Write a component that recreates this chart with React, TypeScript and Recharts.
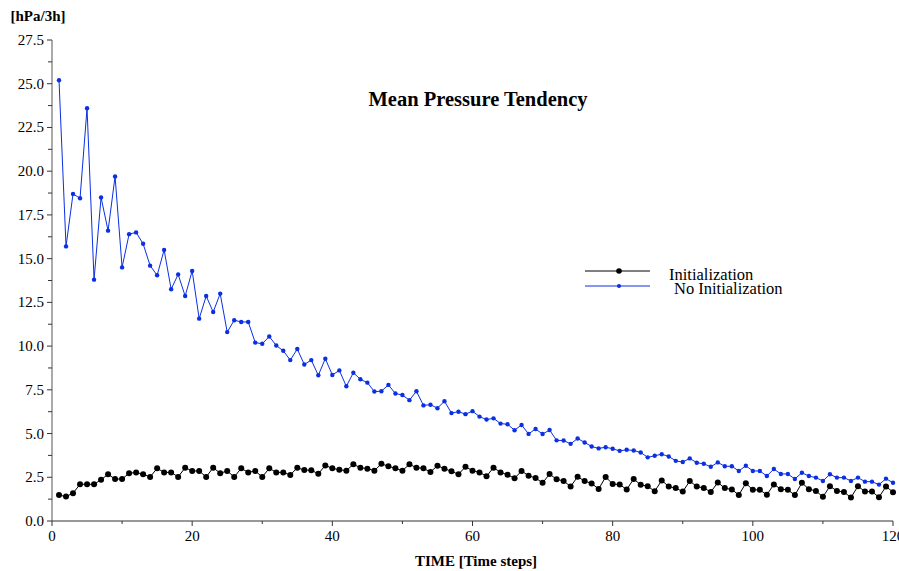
import { LineChart, Line, XAxis, YAxis } from "recharts";

const noInit = [
  25.2, 15.7, 18.7, 18.45, 23.6, 13.8, 18.5, 16.6, 19.7, 14.5,
  16.4, 16.5, 15.85, 14.6, 14.05, 15.5, 13.25, 14.1, 12.86, 14.3,
  11.57, 12.86, 11.95, 13.0, 10.8, 11.48, 11.38, 11.38, 10.2, 10.13,
  10.55, 10.03, 9.73, 9.2, 9.83, 8.95, 9.2, 8.33, 9.28, 8.35,
  8.61, 7.7, 8.48, 8.1, 7.91, 7.4, 7.42, 7.78, 7.29, 7.2,
  6.91, 7.42, 6.61, 6.65, 6.45, 6.85, 6.17, 6.25, 6.11, 6.28,
  5.97, 5.8, 5.87, 5.57, 5.53, 5.19, 5.49, 4.98, 5.26, 4.97,
  5.2, 4.61, 4.6, 4.41, 4.72, 4.49, 4.26, 4.15, 4.22, 4.13,
  4.01, 4.07, 4.03, 3.92, 3.64, 3.73, 3.82, 3.69, 3.44, 3.37,
  3.58, 3.33, 3.27, 3.1, 3.35, 3.13, 3.13, 2.86, 3.16, 2.86,
  2.86, 2.57, 2.97, 2.69, 2.69, 2.4, 2.76, 2.57, 2.48, 2.29,
  2.67, 2.48, 2.48, 2.29, 2.48, 2.25, 2.25, 2.08, 2.42, 2.19,
];

const withInit = [
  1.48, 1.4, 1.59, 2.1, 2.1, 2.1, 2.36, 2.67, 2.4, 2.4,
  2.73, 2.78, 2.67, 2.52, 3.01, 2.78, 2.78, 2.52, 3.05, 2.86,
  2.86, 2.52, 3.05, 2.73, 2.86, 2.52, 3.01, 2.78, 2.86, 2.52,
  3.01, 2.78, 2.78, 2.63, 3.05, 2.91, 2.9, 2.7, 3.18, 3.01,
  2.93, 2.88, 3.24, 3.05, 2.99, 2.88, 3.27, 3.13, 3.01, 2.88,
  3.24, 3.05, 3.01, 2.8, 3.16, 2.99, 2.84, 2.67, 3.1, 2.88,
  2.78, 2.56, 3.05, 2.78, 2.65, 2.44, 2.86, 2.59, 2.46, 2.18,
  2.68, 2.38, 2.29, 1.97, 2.53, 2.28, 2.15, 1.83, 2.52, 2.11,
  2.09, 1.8, 2.4, 2.07, 1.99, 1.7, 2.32, 1.97, 1.88, 1.68,
  2.28, 1.97, 1.89, 1.66, 2.2, 1.88, 1.8, 1.49, 2.16, 1.78,
  1.78, 1.5, 2.09, 1.82, 1.78, 1.48, 2.18, 1.82, 1.72, 1.38,
  1.99, 1.72, 1.66, 1.34, 1.99, 1.68, 1.68, 1.36, 1.97, 1.65,
];

const timeSteps = noInit.map((_, i) => i + 1);

const xTicks = [0, 10, 20, 30, 40, 50, 60, 70, 80, 90, 100, 110, 120];
const yTicks = [
  0, 1.25, 2.5, 3.75, 5, 6.25, 7.5, 8.75, 10, 11.25, 12.5, 13.75,
  15, 16.25, 17.5, 18.75, 20, 21.25, 22.5, 23.75, 25, 26.25, 27.5,
];

const data = timeSteps.map((t, i) => ({ t, init: withInit[i], noInit: noInit[i] }));

const FONT = '"Liberation Serif", "Times New Roman", serif';
const BLUE = "#0b2fe3";

const XTick = ({ x, y, payload }: any) => {
  const major = payload.value % 20 === 0;
  return (
    <g>
      <line x1={x} x2={x} y1={y} y2={y + (major ? 5 : 3)} stroke="#333" />
      {major && (
        <text x={x} y={y + 20} textAnchor="middle" fontFamily={FONT} fontSize={15} fill="#000">
          {payload.value}
        </text>
      )}
    </g>
  );
};

const YTick = ({ x, y, payload, index }: any) => {
  const major = index % 2 === 0;
  return (
    <g>
      <line x1={x - (major ? 5 : 4)} x2={x} y1={y} y2={y} stroke="#333" />
      {major && (
        <text x={x - 8} y={y + 5} textAnchor="end" fontFamily={FONT} fontSize={15} fill="#000">
          {payload.value.toFixed(1)}
        </text>
      )}
    </g>
  );
};

// legend drawn by hand, the built-in one eats into the plot area
const LegendBox = () => (
  <svg width={220} height={40} style={{ display: "block" }}>
    <line x1={0} x2={65} y1={9} y2={9} stroke="#000" strokeWidth={1} />
    <circle cx={34} cy={9} r={2.8} fill="#000" />
    <line x1={0} x2={65} y1={24} y2={24} stroke={BLUE} strokeWidth={1} />
    <circle cx={34} cy={24} r={2} fill={BLUE} />
    <text x={84} y={18} fontFamily={FONT} fontSize={16.5} fill="#000">Initialization</text>
    <text x={89} y={32} fontFamily={FONT} fontSize={16.5} fill="#000">No Initialization</text>
  </svg>
);

export default function App() {
  return (
    <div style={{ position: "absolute", left: 0, top: 0, width: 899, height: 571, background: "#fff" }}>
      <LineChart width={899} height={571} data={data} margin={{ top: 40, right: 6, bottom: 0, left: 0 }}>
        <XAxis
          dataKey="t"
          type="number"
          domain={[0, 120]}
          ticks={xTicks}
          interval={0}
          height={50}
          tickSize={0}
          tickMargin={0}
          tickLine={false}
          axisLine={{ stroke: "#333" }}
          tick={<XTick />}
        />
        <YAxis
          type="number"
          domain={[0, 27.5]}
          ticks={yTicks}
          interval={0}
          width={52}
          tickSize={0}
          tickMargin={0}
          tickLine={false}
          axisLine={{ stroke: "#555" }}
          tick={<YTick />}
        />
        <Line
          dataKey="init"
          name="Initialization"
          stroke="#000"
          strokeWidth={1}
          dot={{ r: 3, fill: "#000", stroke: "none" }}
          isAnimationActive={false}
        />
        <Line
          dataKey="noInit"
          name="No Initialization"
          stroke={BLUE}
          strokeWidth={1}
          dot={{ r: 2.2, fill: BLUE, stroke: "none" }}
          isAnimationActive={false}
        />
      </LineChart>
      <div style={{ position: "absolute", left: 585, top: 262 }}>
        <LegendBox />
      </div>
      <div style={{ position: "absolute", left: 0, top: 6, width: 76, textAlign: "center", fontFamily: FONT, fontWeight: "bold", fontSize: 15, lineHeight: "20px" }}>
        [hPa/3h]
      </div>
      <div style={{ position: "absolute", left: 278, top: 86, width: 400, textAlign: "center", fontFamily: FONT, fontWeight: "bold", fontSize: 20.5, lineHeight: "26px" }}>
        Mean Pressure Tendency
      </div>
      <div style={{ position: "absolute", left: 326, top: 551, width: 300, textAlign: "center", fontFamily: FONT, fontWeight: "bold", fontSize: 15, lineHeight: "20px" }}>
        TIME [Time steps]
      </div>
    </div>
  );
}
